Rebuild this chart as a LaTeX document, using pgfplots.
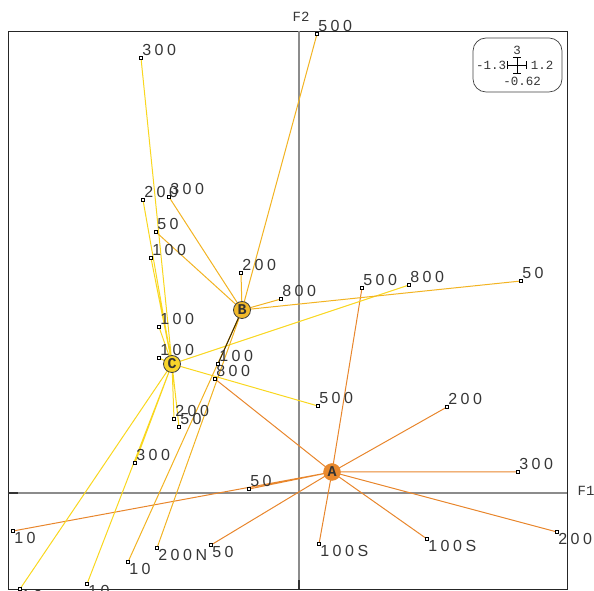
\documentclass[border=0pt]{standalone}
\usepackage{pgfplots}
\pgfplotsset{compat=1.18}
\usepackage{fontspec}
\setmainfont{Liberation Sans}
\newfontfamily\labfont[LetterSpace=22]{Liberation Sans}
\newfontfamily\monofont{Liberation Mono}
\definecolor{colA}{HTML}{E8862C}
\definecolor{colB}{HTML}{F2B322}
\definecolor{colC}{HTML}{F9D71E}
\definecolor{fillA}{HTML}{E8892E}
\definecolor{fillB}{HTML}{F2B92A}
\definecolor{fillC}{HTML}{F8D52A}
\definecolor{txt}{HTML}{363636}
\begin{document}
\begin{tikzpicture}
\begin{axis}[
  x=1pt, y=1pt,
  xmin=-291, xmax=268, ymin=-96, ymax=462,
  ticks=none, clip=false,
  axis line style={draw=black!85, line width=0.8pt},
]
\coordinate (bl) at (axis cs:-299,-98);
\coordinate (tr) at (axis cs:295,493);
% axes through origin
\addplot[gray!90, line width=1.2pt, no marks] coordinates {(-291,0) (268,0)};
\addplot[gray!90, line width=1.2pt, no marks] coordinates {(0,-96) (0,462)};
\addplot[black!80, line width=1.4pt, no marks] coordinates {(-291,0) (-281,0)};
\addplot[black!80, line width=1.4pt, no marks] coordinates {(0,-96) (0,-87)};
% stars
\addplot[colA, line width=1pt, no marks, line join=round] coordinates {
(33,21) (63,205) (33,21) (-84,114) (33,21) (148,86) (33,21) (219,21) (33,21) (258,-39)
(33,21) (128,-46) (33,21) (20,-51) (33,21) (-88,-52) (33,21) (-50,4) (33,21) (-286,-38)};
\addplot[colC, line width=1pt, no marks, line join=round] coordinates {
(-127,129) (-158,435) (-127,129) (-156,293) (-127,129) (-148,235) (-127,129) (-140,166)
(-127,129) (-140,135) (-127,129) (-125,74) (-127,129) (-120,66) (-127,129) (-164,30)
(-127,129) (-279,-96) (-127,129) (-212,-91) (-127,129) (19,87) (-127,129) (110,208)};
\addplot[colB, line width=1pt, no marks, line join=round] coordinates {
(-57,183) (18,459) (-57,183) (-58,220) (-57,183) (-18,194) (-57,183) (-130,296)
(-57,183) (-143,261) (-57,183) (222,212) (-57,183) (-171,-69) (-57,183) (-142,-55)};
\addplot[black!75!colB, line width=1pt, no marks] coordinates {(-57,183) (-81,129)};
% points with labels above
\addplot[only marks, mark=square*, mark size=1.6pt, mark options={draw=black, fill=white, line width=0.5pt},
  point meta=explicit symbolic, nodes near coords,
  every node near coord/.style={anchor=base west, inner sep=0pt, xshift=1pt, yshift=2pt, font=\labfont\fontsize{16}{16}\selectfont, text=txt}]
coordinates {
(63,205)[500] (-84,114)[800] (148,86)[200] (219,21)[300] (-50,4)[50] (18,459)[500]
(-58,220)[200] (-18,194)[800] (-130,296)[300] (-143,261)[50] (222,212)[50] (-81,129)[100]
(-158,435)[300] (-156,293)[200] (-148,235)[100] (-140,166)[100] (-140,135)[100]
(-125,74)[200] (-120,66)[50] (-164,30)[300] (19,87)[500] (110,208)[800]};
% points with labels below
\addplot[only marks, mark=square*, mark size=1.6pt, mark options={draw=black, fill=white, line width=0.5pt},
  point meta=explicit symbolic, nodes near coords,
  every node near coord/.style={anchor=base west, inner sep=0pt, xshift=1pt, yshift=-13pt, font=\labfont\fontsize{16}{16}\selectfont, text=txt}]
coordinates {
(258,-39)[200] (128,-46)[100S] (20,-51)[100S] (-88,-52)[50] (-286,-38)[10]
(-171,-69)[10] (-142,-55)[200N] (-279,-96)[10] (-212,-91)[10]};
% centres
\addplot[only marks, mark=*, mark size=8.5pt, mark options={draw=fillA, fill=fillA},
  point meta=explicit symbolic, nodes near coords,
  every node near coord/.style={anchor=center, inner sep=0pt, font=\monofont\bfseries\fontsize{15}{15}\selectfont, text=black!80}]
coordinates {(33,21)[A]};
\addplot[only marks, mark=*, mark size=8.5pt, mark options={draw=black!75, fill=fillB, line width=0.8pt},
  point meta=explicit symbolic, nodes near coords,
  every node near coord/.style={anchor=center, inner sep=0pt, font=\monofont\bfseries\fontsize{15}{15}\selectfont, text=black!80}]
coordinates {(-57,183)[B]};
\addplot[only marks, mark=*, mark size=8.5pt, mark options={draw=black!75, fill=fillC, line width=0.8pt},
  point meta=explicit symbolic, nodes near coords,
  every node near coord/.style={anchor=center, inner sep=0pt, font=\monofont\bfseries\fontsize{15}{15}\selectfont, text=black!80}]
coordinates {(-127,129)[C]};
% axis names
\node[font=\monofont\fontsize{14}{14}\selectfont, text=txt] at (axis cs:2,476) {F2};
\node[font=\monofont\fontsize{14}{14}\selectfont, text=txt] at (axis cs:287,2) {F1};
% scale legend box
\draw[black!75, line width=0.7pt, rounded corners=13pt] (axis cs:174,401) rectangle (axis cs:263,455);
\node[font=\monofont\fontsize{12.5}{12.5}\selectfont, text=txt] at (axis cs:218,443) {3};
\node[font=\monofont\fontsize{12.5}{12.5}\selectfont, text=txt] at (axis cs:192,428) {-1.3};
\node[font=\monofont\fontsize{12.5}{12.5}\selectfont, text=txt] at (axis cs:243,428) {1.2};
\node[font=\monofont\fontsize{12.5}{12.5}\selectfont, text=txt] at (axis cs:223,412) {-0.62};
\draw[black, line width=0.7pt] (axis cs:208,428) -- (axis cs:227,428);
\draw[black, line width=0.7pt] (axis cs:208,424) -- (axis cs:208,432);
\draw[black, line width=0.7pt] (axis cs:227,424) -- (axis cs:227,432);
\draw[black, line width=0.7pt] (axis cs:218,420) -- (axis cs:218,436);
\draw[black, line width=0.7pt] (axis cs:214,436) -- (axis cs:222,436);
\draw[black, line width=0.7pt] (axis cs:214,420) -- (axis cs:222,420);
\end{axis}
\pgfresetboundingbox
\path[use as bounding box] (bl) rectangle (tr);
\end{tikzpicture}
\end{document}
